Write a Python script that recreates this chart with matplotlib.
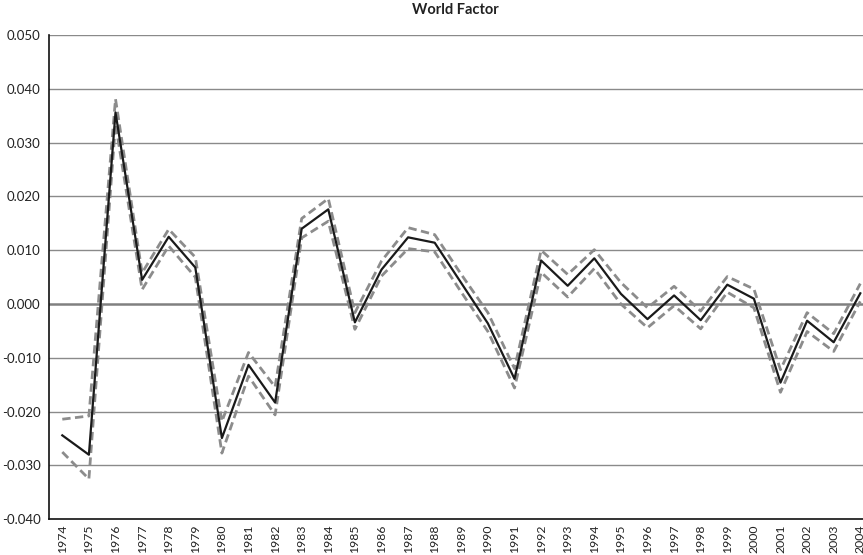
import numpy as np
import matplotlib.pyplot as plt

years = list(range(1974, 2005))

# point estimate of the world factor
factor = [-0.0244, -0.0280, 0.0356, 0.0045, 0.0125, 0.0068, -0.0249, -0.0113,
          -0.0183, 0.0140, 0.0176, -0.0034, 0.0064, 0.0124, 0.0114, 0.0039,
          -0.0036, -0.0139, 0.0081, 0.0034, 0.0085, 0.0019, -0.0028, 0.0016,
          -0.0030, 0.0036, 0.0010, -0.0146, -0.0031, -0.0071, 0.0020]

# confidence bands
upper = [-0.0214, -0.0208, 0.0381, 0.0058, 0.0139, 0.0087, -0.0218, -0.0090,
         -0.0154, 0.0159, 0.0196, -0.0016, 0.0080, 0.0142, 0.0129, 0.0055,
         -0.0016, -0.0120, 0.0100, 0.0055, 0.0101, 0.0040, -0.0007, 0.0033,
         -0.0013, 0.0051, 0.0028, -0.0122, -0.0016, -0.0055, 0.0038]
lower = [-0.0275, -0.0325, 0.0335, 0.0027, 0.0108, 0.0050, -0.0277, -0.0134,
         -0.0206, 0.0123, 0.0154, -0.0047, 0.0052, 0.0103, 0.0097, 0.0022,
         -0.0051, -0.0156, 0.0059, 0.0013, 0.0066, 0.0000, -0.0044, -0.0003,
         -0.0046, 0.0022, -0.0007, -0.0164, -0.0051, -0.0088, 0.0005]

plt.rcParams['font.family'] = ['Lato', 'DejaVu Sans']

fig = plt.figure(figsize=(8.63, 5.55), dpi=100)
ax = fig.add_axes([49 / 863, 35.7 / 555, 824.6 / 863, 484.3 / 555])

x = np.arange(len(years))
ax.plot(x, upper, color='#8c8c8c', lw=2.0, ls=(0, (3, 1.6)), zorder=3)
ax.plot(x, lower, color='#8c8c8c', lw=2.0, ls=(0, (3, 1.6)), zorder=3)
ax.plot(x, factor, color='#1a1a1a', lw=1.6, zorder=4)

ax.set_xlim(-0.5, len(years) - 0.5)
ax.set_ylim(-0.040, 0.050)
yt = np.arange(-0.040, 0.0501, 0.010)
ax.set_yticks(yt)
ax.set_yticklabels([f"{v:.3f}" for v in yt], fontsize=9.5, color='#222222')
ax.set_xticks(x)
ax.set_xticklabels([str(y) for y in years], rotation=90, fontsize=8.8, color='#222222')
ax.tick_params(axis='y', length=0, pad=6)
ax.tick_params(axis='x', length=0, pad=4)

for v in yt:
    if abs(v) < 1e-9:
        ax.axhline(v, color='#808080', lw=1.8, zorder=1)
    elif v > -0.0399:
        ax.axhline(v, color='#8a8a8a', lw=1.0, zorder=1)

for s in ['top', 'right']:
    ax.spines[s].set_visible(False)
ax.spines['left'].set_color('#111111')
ax.spines['bottom'].set_color('#111111')
ax.spines['left'].set_linewidth(1.2)
ax.spines['bottom'].set_linewidth(1.2)

fig.text(455 / 863, 1 - 10 / 555, 'World Factor', ha='center', va='center',
         fontsize=10.5, fontweight='bold', color='#222222')

fig.savefig('out.png', dpi=100)
